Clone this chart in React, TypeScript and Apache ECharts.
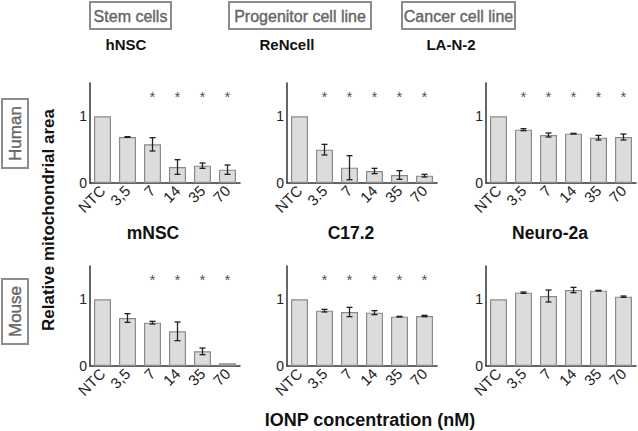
import React, { useEffect, useRef } from "react";
import * as echarts from "echarts";

const categoriesComma = ["NTC", "3,5", "7", "14", "35", "70"];
const categoriesDot = ["NTC", "3.5", "7", "14", "35", "70"];

const hNSCMean = [1, 0.69, 0.58, 0.24, 0.26, 0.2];
const hNSCErr = [0, 0.005, 0.1, 0.11, 0.04, 0.07];
const hNSCSig = [0, 0, 1, 1, 1, 1];

const renMean = [1, 0.5, 0.23, 0.18, 0.12, 0.11];
const renErr = [0, 0.08, 0.18, 0.04, 0.065, 0.02];
const renSig = [0, 1, 1, 1, 1, 1];

const lan2Mean = [1, 0.8, 0.72, 0.74, 0.68, 0.69];
const lan2Err = [0, 0.015, 0.03, 0.005, 0.035, 0.045];
const lan2Sig = [0, 1, 1, 1, 1, 1];

const mNSCMean = [1, 0.72, 0.65, 0.52, 0.22, 0.04];
const mNSCErr = [0, 0.065, 0.02, 0.14, 0.05, 0];
const mNSCSig = [0, 0, 1, 1, 1, 1];

const c172Mean = [1, 0.83, 0.81, 0.8, 0.74, 0.75];
const c172Err = [0, 0.02, 0.07, 0.03, 0.005, 0.01];
const c172Sig = [0, 1, 1, 1, 1, 1];

const n2aMean = [1, 1.1, 1.05, 1.14, 1.13, 1.04];
const n2aErr = [0, 0.01, 0.09, 0.04, 0.005, 0.01];
const n2aSig = [0, 0, 0, 0, 0, 0];

const panelTitles = ["hNSC", "ReNcell", "LA-N-2", "mNSC", "C17.2", "Neuro-2a"];
const headerLabels = ["Stem cells", "Progenitor cell line", "Cancer cell line"];
const speciesLabels = ["Human", "Mouse"];
const yAxisTitle = "Relative mitochondrial area";
const xAxisTitle = "IONP concentration (nM)";
const starLevel = 1.3;

const FONT = "Liberation Sans, Arial, Helvetica, sans-serif";

export default function App() {
  const ref = useRef<HTMLDivElement>(null);

  useEffect(() => {
    if (!ref.current) return;
    const chart = echarts.init(ref.current, null, { renderer: "svg" });

    const panels = [
      { cats: categoriesComma, mean: hNSCMean, err: hNSCErr, sig: hNSCSig },
      { cats: categoriesDot, mean: renMean, err: renErr, sig: renSig },
      { cats: categoriesComma, mean: lan2Mean, err: lan2Err, sig: lan2Sig },
      { cats: categoriesComma, mean: mNSCMean, err: mNSCErr, sig: mNSCSig },
      { cats: categoriesComma, mean: c172Mean, err: c172Err, sig: c172Sig },
      { cats: categoriesComma, mean: n2aMean, err: n2aErr, sig: n2aSig },
    ];
    const lefts = [90, 287, 486];
    const tops = [83, 266];

    const grids: any[] = [];
    const xAxes: any[] = [];
    const yAxes: any[] = [];
    const series: any[] = [];

    panels.forEach((p, i) => {
      const col = i % 3;
      const row = Math.floor(i / 3);
      grids.push({ left: lefts[col], top: tops[row], width: 150, height: 100 });
      xAxes.push({
        type: "category",
        gridIndex: i,
        data: p.cats,
        axisLine: { show: true, lineStyle: { color: "#333", width: 1.5 } },
        axisTick: { show: false },
        axisLabel: {
          rotate: 45,
          interval: 0,
          fontSize: 15,
          color: "#222",
          fontFamily: FONT,
          margin: 5,
        },
      });
      yAxes.push({
        type: "value",
        gridIndex: i,
        min: 0,
        max: 1.5,
        interval: 0.5,
        splitLine: { show: false },
        axisLine: { show: true, lineStyle: { color: "#333", width: 1.5 } },
        axisTick: { show: false },
        axisLabel: {
          fontSize: 14,
          color: "#222",
          fontFamily: FONT,
          margin: 3,
          formatter: (v: number) => (v === 0 || v === 1 ? String(v) : ""),
        },
      });
      series.push({
        type: "bar",
        xAxisIndex: i,
        yAxisIndex: i,
        data: p.mean,
        barWidth: 17,
        itemStyle: { color: "#dcdcdc", borderColor: "#8a8a8a", borderWidth: 1.2 },
        silent: true,
      });
      series.push({
        type: "custom",
        xAxisIndex: i,
        yAxisIndex: i,
        data: p.mean.map((m, k) => [k, m, p.err[k]]),
        z: 5,
        renderItem: (params: any, api: any) => {
          const idx = api.value(0);
          const m = api.value(1);
          const e = api.value(2);
          if (!e) return null;
          const hi = api.coord([idx, m + e]);
          const lo = api.coord([idx, m - e]);
          const cw = 3;
          const st = { stroke: "#222", lineWidth: 1.3 };
          return {
            type: "group",
            children: [
              { type: "line", shape: { x1: hi[0], y1: hi[1], x2: lo[0], y2: lo[1] }, style: st },
              { type: "line", shape: { x1: hi[0] - cw, y1: hi[1], x2: hi[0] + cw, y2: hi[1] }, style: st },
              { type: "line", shape: { x1: lo[0] - cw, y1: lo[1], x2: lo[0] + cw, y2: lo[1] }, style: st },
            ],
          };
        },
      });
      const stars = p.sig
        .map((s, k) => (s ? [k, starLevel] : null))
        .filter((d) => d !== null);
      series.push({
        type: "scatter",
        xAxisIndex: i,
        yAxisIndex: i,
        data: stars,
        symbolSize: 0,
        silent: true,
        label: {
          show: true,
          position: "inside",
          formatter: "*",
          fontSize: 15,
          color: "#222",
          fontFamily: FONT,
        },
      });
    });

    const titlePos = [
      [126, 44, 15],
      [287, 44, 15],
      [451, 44, 15],
      [153, 233, 17.5],
      [351, 233, 17.5],
      [550, 233, 17.5],
    ];
    const graphics: any[] = [];
    panelTitles.forEach((t, i) => {
      graphics.push({
        type: "text",
        x: titlePos[i][0],
        y: titlePos[i][1],
        style: {
          text: t,
          font: `bold ${titlePos[i][2]}px ${FONT}`,
          fill: "#111",
          align: "center",
          verticalAlign: "middle",
        },
      });
    });

    const headerBoxes = [
      [90, 171],
      [229, 371],
      [402, 515],
    ];
    headerLabels.forEach((h, i) => {
      const [x0, x1] = headerBoxes[i];
      graphics.push({
        type: "rect",
        shape: { x: x0, y: 2, width: x1 - x0, height: 27 },
        style: { fill: "none", stroke: "#8c8c8c", lineWidth: 2 },
      });
      graphics.push({
        type: "text",
        x: (x0 + x1) / 2,
        y: 16,
        style: {
          text: h,
          font: `16px ${FONT}`,
          fill: "#666",
          stroke: "#666",
          lineWidth: 0.4,
          align: "center",
          verticalAlign: "middle",
        },
      });
    });

    const sideBoxes = [
      [99, 168],
      [279, 344],
    ];
    speciesLabels.forEach((s, i) => {
      const [y0, y1] = sideBoxes[i];
      graphics.push({
        type: "rect",
        shape: { x: 2, y: y0, width: 26, height: y1 - y0 },
        style: { fill: "none", stroke: "#8c8c8c", lineWidth: 2 },
      });
      graphics.push({
        type: "text",
        x: 15,
        y: (y0 + y1) / 2,
        rotation: Math.PI / 2,
        style: {
          text: s,
          font: `17px ${FONT}`,
          fill: "#666",
          stroke: "#666",
          lineWidth: 0.4,
          align: "center",
          verticalAlign: "middle",
        },
      });
    });

    graphics.push({
      type: "text",
      x: 48,
      y: 220,
      rotation: Math.PI / 2,
      style: {
        text: yAxisTitle,
        font: `bold 17px ${FONT}`,
        fill: "#111",
        align: "center",
        verticalAlign: "middle",
      },
    });
    graphics.push({
      type: "text",
      x: 370,
      y: 420,
      style: {
        text: xAxisTitle,
        font: `bold 18px ${FONT}`,
        fill: "#111",
        align: "center",
        verticalAlign: "middle",
      },
    });

    chart.setOption({
      animation: false,
      backgroundColor: "#ffffff",
      textStyle: { fontFamily: FONT },
      grid: grids,
      xAxis: xAxes,
      yAxis: yAxes,
      series,
      graphic: graphics,
    });

    return () => chart.dispose();
  }, []);

  return (
    <div
      ref={ref}
      style={{ position: "fixed", left: 0, top: 0, width: 638, height: 431 }}
    />
  );
}
